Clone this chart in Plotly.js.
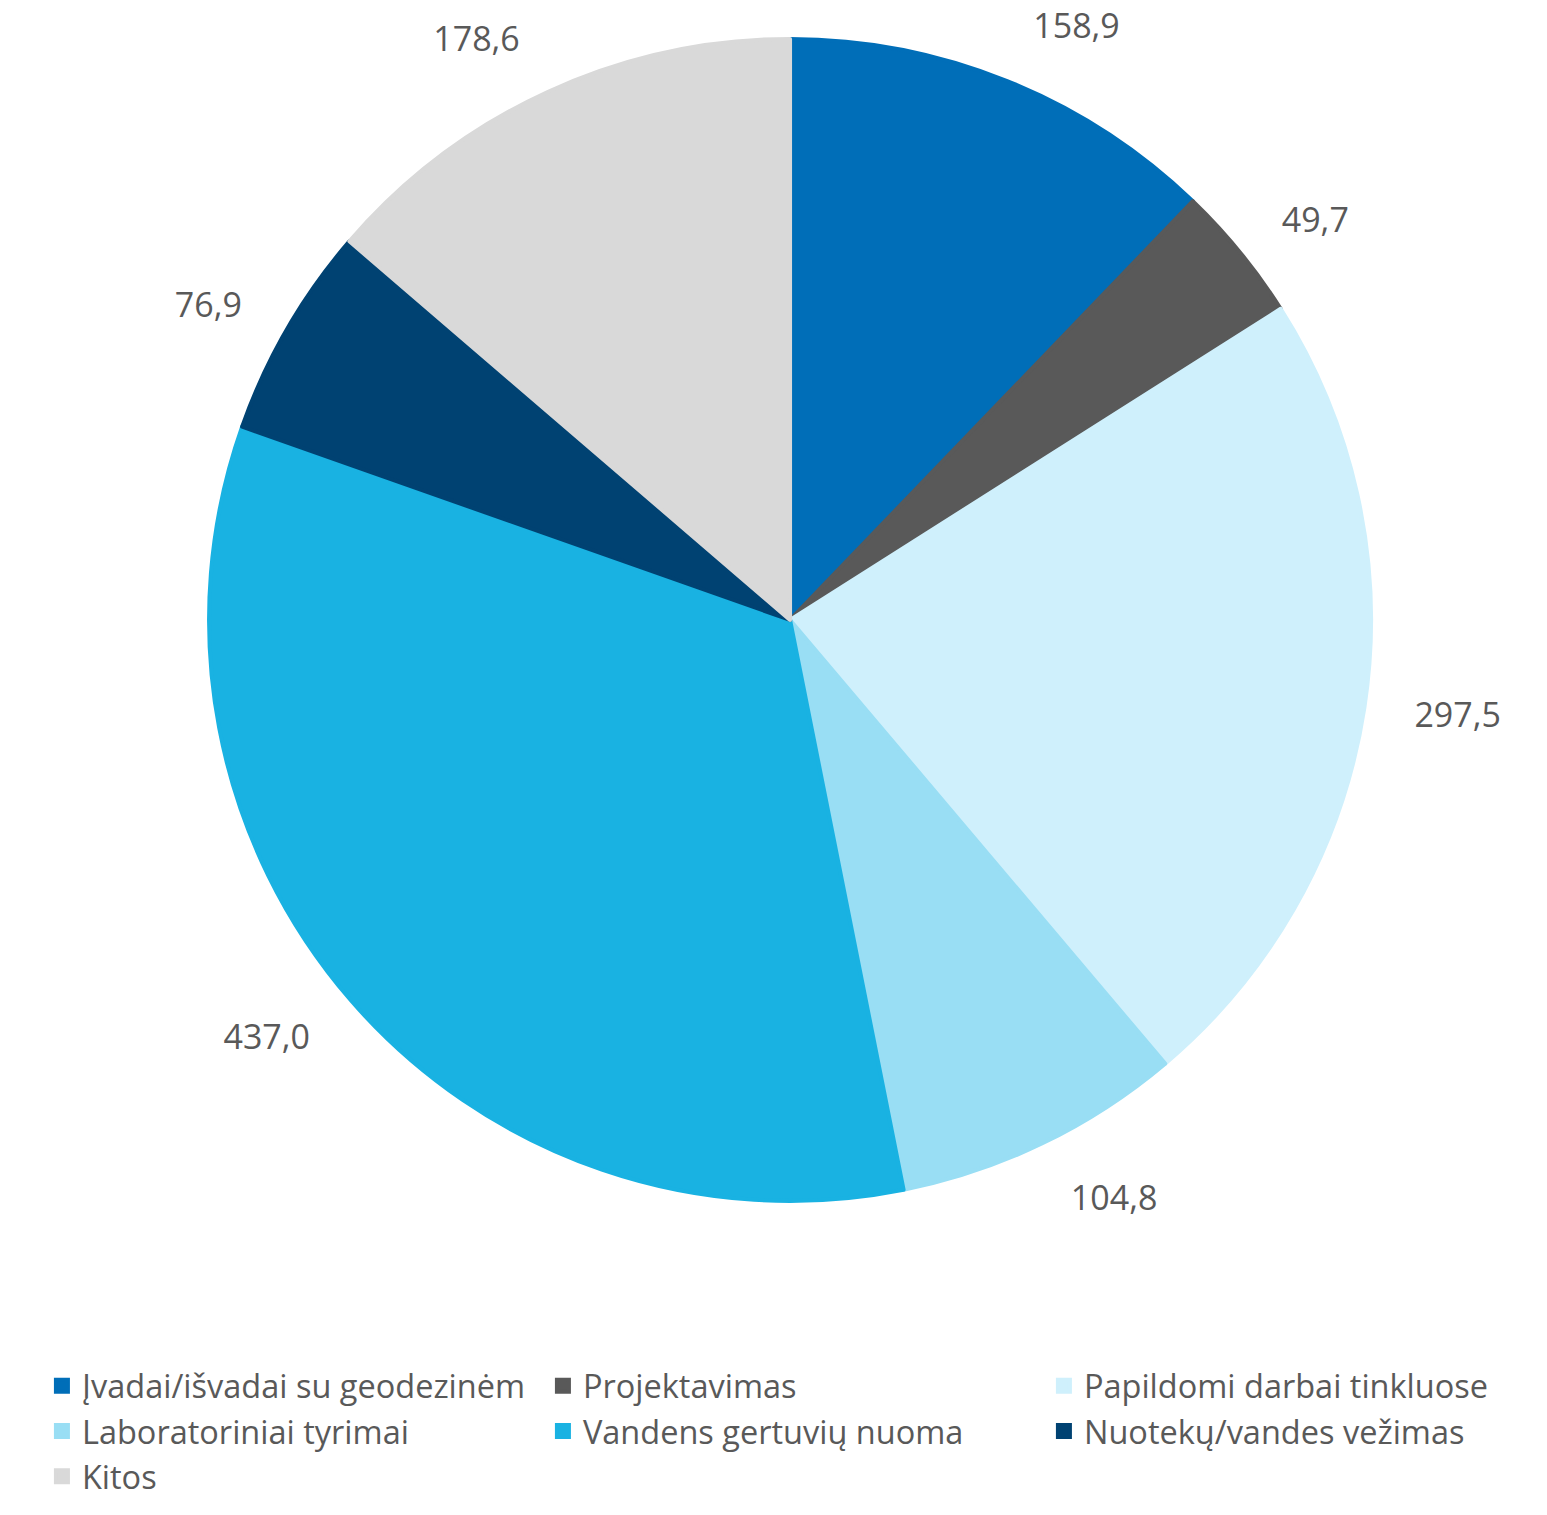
<!DOCTYPE html>
<html>
<head>
<meta charset="utf-8">
<script src="https://cdn.plot.ly/plotly-3.0.1.min.js"></script>
<style>html,body{margin:0;padding:0;background:#fff;}#chart{width:1547px;height:1515px;}</style>
</head>
<body>
<div id="chart"></div>
<script>
const categories = [
  "Įvadai/išvadai su geodezinėm",
  "Projektavimas",
  "Papildomi darbai tinkluose",
  "Laboratoriniai tyrimai",
  "Vandens gertuvių nuoma",
  "Nuotekų/vandes vežimas",
  "Kitos"
];
const values = [158.9, 49.7, 297.5, 104.8, 437.0, 76.9, 178.6];
const colors = ["#006EB8", "#595959", "#CFF0FC", "#99DEF4", "#19B2E2", "#004272", "#D9D9D9"];

const FONT = "Open Sans, Noto Sans, sans-serif";

// visible pie (slices + legend)
const pieTrace = {
  type: "pie",
  labels: categories,
  values: values,
  sort: false,
  direction: "clockwise",
  rotation: 0,
  marker: {colors: colors, line: {width: 4, color: colors}},
  textinfo: "none",
  hoverinfo: "label+value",
  domain: {x: [0.0214, 1], y: [0.2073, 0.9743]},
  automargin: false
};
// same data, transparent, slightly larger radius: carries the outside value labels
const labelTrace = {
  type: "pie",
  labels: categories,
  values: values,
  sort: false,
  direction: "clockwise",
  rotation: 0,
  marker: {colors: categories.map(() => "rgba(0,0,0,0)"), line: {width: 0}},
  textposition: "outside",
  texttemplate: "%{value:.1f}",
  outsidetextfont: {family: FONT, size: 34, color: "#595959"},
  hoverinfo: "skip",
  showlegend: false,
  domain: {x: [0.0214, 1], y: [0.1815, 1]},
  automargin: false
};
const layout = {
  width: 1547,
  height: 1515,
  separators: ", ",
  margin: {l: 0, r: 0, t: 0, b: 0},
  paper_bgcolor: "#ffffff",
  showlegend: true,
  legend: {
    orientation: "h",
    x: 0.0271, xanchor: "left",
    y: 0.1036, yanchor: "top",
    entrywidth: 456, entrywidthmode: "pixels",
    font: {family: FONT, size: 32.5, color: "#595959"},
    traceorder: "normal"
  }
};
Plotly.newPlot("chart", [pieTrace, labelTrace], layout, {displayModeBar: false, staticPlot: true});
</script>
</body>
</html>
